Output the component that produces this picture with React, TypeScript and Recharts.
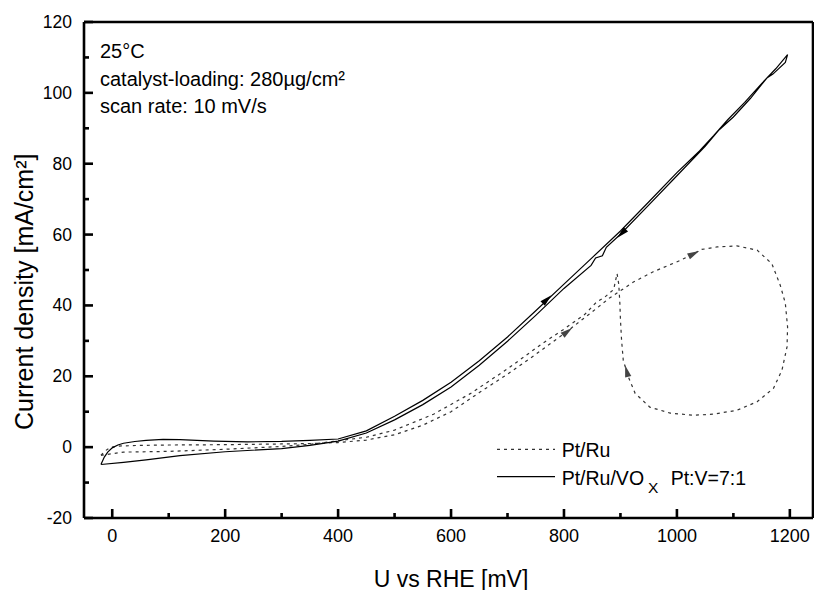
import React from "react";
import { ComposedChart, Line, XAxis, YAxis } from "recharts";

const FONT = "'Liberation Sans', Arial, Helvetica, sans-serif";

// axis ticks (majors get a label)
const xTicks = [0, 100, 200, 300, 400, 500, 600, 700, 800, 900, 1000, 1100, 1200];
const yTicks = [-20, -10, 0, 10, 20, 30, 40, 50, 60, 70, 80, 90, 100, 110, 120];

// Pt/Ru/VOx (solid) - forward sweep then back
const voxU = [
  -20, -14, -8, 0, 10, 20, 40, 60, 90, 120, 180, 240, 300, 350, 400, 450, 500, 550, 600, 650,
  700, 750, 800, 850, 900, 950, 1000, 1040, 1065, 1090, 1120, 1150, 1175, 1196,
  1192, 1170, 1160, 1130, 1100, 1075, 1050, 1000, 950, 900, 875, 868, 856, 848, 800, 750, 700,
  650, 600, 550, 500, 450, 400, 350, 300, 200, 120, 60, 20, -20,
];
const voxJ = [
  -4.9, -2.8, -1.4, -0.2, 0.6, 1.1, 1.6, 1.9, 2.2, 2.1, 1.7, 1.5, 1.6, 1.9, 2.3, 4.6, 8.7, 13.2, 18.3, 24.4,
  31.1, 38.5, 46.0, 53.5, 61.0, 69.2, 77.5, 83.6, 87.9, 92.4, 97.3, 102.6, 106.8, 110.8,
  108.6, 105.3, 104.3, 98.4, 93.2, 89.6, 84.9, 76.6, 68.3, 60.1, 56.4, 54.0, 53.4, 51.3, 44.8, 37.2, 29.9,
  23.1, 17.0, 12.0, 7.7, 4.0, 1.7, 0.5, -0.4, -1.3, -2.4, -3.6, -4.3, -4.9,
];

// Pt/Ru (dashed)
const ptruU = [
  -20, -12, -4, 10, 50, 100, 200, 300, 350, 400, 450, 500, 550, 600, 650, 700, 750, 800, 850, 880,
  923, 958, 1006, 1044, 1071, 1106, 1142, 1168, 1183, 1192, 1196, 1195, 1186, 1171, 1142, 1106,
  1064, 1029, 988, 952, 926, 914, 905, 902, 900, 899, 897, 894, 888, 872, 858, 837, 800, 763,
  700, 634, 569, 500, 450, 400, 350, 300, 200, 100, 20, -20,
];
const ptruJ = [
  -2.3, -1.0, -0.1, 0.3, 0.5, 0.6, 0.7, 0.9, 1.0, 1.3, 2.0, 3.5, 6.2, 10.0, 15.4, 20.6, 26.2, 32.0, 38.2, 42.0,
  46.6, 49.5, 52.7, 55.8, 56.5, 56.8, 55.6, 51.8, 45.7, 40.6, 33.9, 28.3, 21.7, 16.6, 12.8, 10.4,
  9.3, 9.0, 9.6, 11.3, 15.2, 19.8, 24.5, 30.2, 36.0, 40.5, 46.0, 49.0, 44.5, 42.3, 41.0, 37.5, 33.3, 29.4,
  22.1, 15.1, 9.3, 4.8, 2.8, 1.8, 0.8, 0.2, -0.6, -1.2, -1.4, -2.3,
];

// sweep direction arrows
const voxArrowU = [770, 902];
const voxArrowJ = [41.7, 60.3];
const voxArrowDeg = [-43, 135];
const ptruArrowU = [806, 1030, 911];
const ptruArrowJ = [32.6, 54.6, 21.5];
const ptruArrowDeg = [-38, -27, -105];

const pts = (u: number[], j: number[]) => u.map((x, i) => ({ x, y: j[i] }));
const arrows = (u: number[], j: number[], a: number[]) => u.map((x, i) => ({ x, y: j[i], angle: a[i] }));

const voxData = pts(voxU, voxJ);
const ptruData = pts(ptruU, ptruJ);
const voxArrows = arrows(voxArrowU, voxArrowJ, voxArrowDeg);
const ptruArrows = arrows(ptruArrowU, ptruArrowJ, ptruArrowDeg);

// arrow heads drawn as the dots of an invisible line
const arrowDot = (fill: string) => (props: any) => {
  const { cx, cy, payload, index } = props;
  return (
    <polygon
      key={index}
      points="6,0 -6,-3.2 -6,3.2"
      fill={fill}
      transform={`translate(${cx},${cy}) rotate(${payload.angle})`}
    />
  );
};

// ticks point into the plot; majors 9px, minors 5px
function BottomTick(props: any) {
  const { x, y, payload } = props;
  const major = payload.value % 200 === 0;
  return (
    <g>
      <rect x={x - 1.3} y={y - (major ? 9 : 5)} width={2.6} height={major ? 9 : 5} fill="#000" />
      {major && (
        <text x={x} y={y + 24} textAnchor="middle" fontSize={18} fontFamily={FONT} fill="#000">
          {payload.value}
        </text>
      )}
    </g>
  );
}

function TopTick(props: any) {
  const { x, y, payload } = props;
  const major = payload.value % 200 === 0;
  return <rect x={x - 1.3} y={y} width={2.6} height={major ? 9 : 5} fill="#000" />;
}

function LeftTick(props: any) {
  const { x, y, payload } = props;
  const major = payload.value % 20 === 0;
  return (
    <g>
      <rect x={x} y={y - 1.3} width={major ? 9 : 5} height={2.6} fill="#000" />
      {major && (
        <text x={x - 12} y={y + 6} textAnchor="end" fontSize={17.5} fontFamily={FONT} fill="#000">
          {payload.value}
        </text>
      )}
    </g>
  );
}

function RightTick(props: any) {
  const { x, y, payload } = props;
  const major = payload.value % 20 === 0;
  return <rect x={x - (major ? 9 : 5)} y={y - 1.3} width={major ? 9 : 5} height={2.6} fill="#000" />;
}

const frame = { stroke: "#000", strokeWidth: 2.6 };

export default function App() {
  return (
    <div style={{ position: "absolute", left: 0, top: 0, width: 814, height: 590 }}>
      <svg
        width={814}
        height={590}
        style={{ position: "absolute", left: 0, top: 0 }}
        fontFamily={FONT}
        fill="#000"
      >
        <text x={100} y={58.3} fontSize={20}>25°C</text>
        <text x={100} y={85.5} fontSize={20}>catalyst-loading: 280µg/cm²</text>
        <text x={100} y={113.3} fontSize={20}>scan rate: 10 mV/s</text>

        <line x1={497} x2={555} y1={449.3} y2={449.3} stroke="#333" strokeWidth={1.2} strokeDasharray="3 4" />
        <text x={561.7} y={456.7} fontSize={19.5}>Pt/Ru</text>
        <line x1={497} x2={555} y1={476.7} y2={476.7} stroke="#000" strokeWidth={1.2} />
        <text x={561.7} y={485} fontSize={19.5}>Pt/Ru/VO</text>
        <text x={648} y={493.3} fontSize={15.5}>X</text>
        <text x={670.7} y={485} fontSize={19.5}>Pt:V=7:1</text>

        <text x={451} y={586.5} fontSize={23} textAnchor="middle">U vs RHE [mV]</text>
        <text transform="translate(33.3,430) rotate(-90)" fontSize={25}>Current density [mA/cm²]</text>
      </svg>

      <ComposedChart width={814} height={590} margin={{ top: 21, right: 0, bottom: 0, left: 0 }}>
        <XAxis
          xAxisId="b"
          dataKey="x"
          type="number"
          domain={[-50, 1241]}
          ticks={xTicks}
          interval={0}
          height={72}
          stroke="#000"
          tickSize={0}
          tickMargin={0}
          tickLine={false}
          axisLine={frame}
          tick={<BottomTick />}
        />
        <XAxis
          xAxisId="t"
          orientation="top"
          dataKey="x"
          type="number"
          domain={[-50, 1241]}
          ticks={xTicks}
          interval={0}
          height={1}
          stroke="#000"
          tickSize={0}
          tickMargin={0}
          tickLine={false}
          axisLine={frame}
          tick={<TopTick />}
        />
        <YAxis
          yAxisId="l"
          dataKey="y"
          type="number"
          domain={[-20, 120]}
          ticks={yTicks}
          interval={0}
          width={84}
          stroke="#000"
          tickSize={0}
          tickMargin={0}
          tickLine={false}
          axisLine={frame}
          tick={<LeftTick />}
        />
        <YAxis
          yAxisId="r"
          orientation="right"
          dataKey="y"
          type="number"
          domain={[-20, 120]}
          ticks={yTicks}
          interval={0}
          width={1}
          stroke="#000"
          tickSize={0}
          tickMargin={0}
          tickLine={false}
          axisLine={frame}
          tick={<RightTick />}
        />
        <Line
          xAxisId="b"
          yAxisId="l"
          data={ptruData}
          dataKey="y"
          type="linear"
          stroke="#333"
          strokeWidth={1.2}
          strokeDasharray="3 4"
          dot={false}
          activeDot={false}
          isAnimationActive={false}
        />
        <Line
          xAxisId="b"
          yAxisId="l"
          data={voxData}
          dataKey="y"
          type="linear"
          stroke="#000"
          strokeWidth={1.2}
          dot={false}
          activeDot={false}
          isAnimationActive={false}
        />
        <Line
          xAxisId="b"
          yAxisId="l"
          data={voxArrows}
          dataKey="y"
          stroke="none"
          dot={arrowDot("#000")}
          activeDot={false}
          isAnimationActive={false}
        />
        <Line
          xAxisId="b"
          yAxisId="l"
          data={ptruArrows}
          dataKey="y"
          stroke="none"
          dot={arrowDot("#444")}
          activeDot={false}
          isAnimationActive={false}
        />
      </ComposedChart>
    </div>
  );
}
